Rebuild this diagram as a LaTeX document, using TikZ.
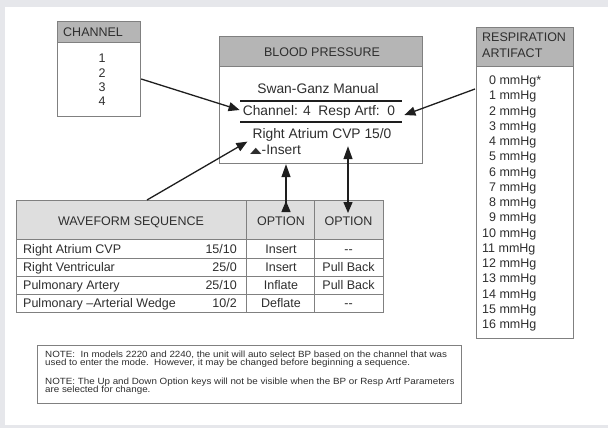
\documentclass[tikz,border=0pt]{standalone}
\usepackage{fontspec}
\setmainfont{Liberation Sans}
\newfontfamily\symfnt{DejaVu Sans}
\usetikzlibrary{arrows.meta,calc}
\definecolor{bggray}{HTML}{E6E7EB}
\definecolor{headgray}{HTML}{B5B5B5}
\definecolor{tabhead}{HTML}{DEDEDE}
\definecolor{bordc}{HTML}{808080}
\definecolor{txtc}{HTML}{2E2E2E}
\definecolor{arrc}{HTML}{1E1E1E}
\begin{document}
\begin{tikzpicture}[x=1pt,y=-1pt,
  txt/.style={text=txtc, inner sep=0pt, font=\fontsize{12.5}{14.3}\selectfont},
  ctxt/.style={txt, anchor=base},
  bigtxt/.style={text=txtc, inner sep=0pt, font=\fontsize{13.8}{16}\selectfont},
  notetxt/.style={text=txtc, inner sep=0pt, font=\fontsize{9}{9}\selectfont, anchor=base west},
  boxf/.style={draw=bordc, line width=1.2pt, inner sep=0pt, anchor=north west},
  gline/.style={draw=bordc, line width=1pt},
  dline/.style={draw=arrc, line width=1.3pt},
  conn/.style={draw=arrc, line width=1.3pt, -{Triangle[length=11pt,width=9pt]}}]
\useasboundingbox (0,0) rectangle (608,428);
\fill[bggray] (0,0) rectangle (608,428);
\fill[white] (5,7) rectangle (608,425);

% CHANNEL box
\fill[headgray] (57,21) rectangle (140,43);
\node[boxf, minimum width=83pt, minimum height=95pt] (chan) at (57,21) {};
\draw[gline] (57,43) -- (140,43);
\node[txt, anchor=west] (chanh) at (63,32) {CHANNEL};
\node[txt, align=center] (chanl) at (102,80) {1\\2\\3\\4};

% BLOOD PRESSURE box
\fill[headgray] (219,36) rectangle (422,67);
\node[boxf, minimum width=203pt, minimum height=127pt] (bp) at (219,36) {};
\draw[gline] (219,67) -- (422,67);
\node[txt] (bph) at (322,52) {BLOOD PRESSURE};
\node[bigtxt] (sgm) at (318,89) {Swan-Ganz Manual};
\draw[dline] (240,101) -- (402,101);
\node[bigtxt] (chl) at (319,112) {Channel: 4\ \ Resp Artf:\ \ 0};
\draw[dline] (240,122) -- (402,122);
\node[bigtxt] (rac) at (322,135) {Right Atrium CVP 15/0};
\node[bigtxt, anchor=base west] (ins) at (250,154) {\raisebox{0.2pt}{\scalebox{1}[0.55]{{\symfnt\fontsize{15}{15}\selectfont ▲}}}-Insert};

% RESPIRATION ARTIFACT box
\fill[headgray] (476,27) rectangle (573,67);
\node[boxf, minimum width=97pt, minimum height=311pt] (resp) at (476,27) {};
\draw[gline] (476,67) -- (573,67);
\node[txt, anchor=west, align=left, font=\fontsize{12.5}{16}\selectfont] (resph) at (482,45) {RESPIRATION\\ARTIFACT};
\node[txt, anchor=base west] (r0) at (482,84.5) {\phantom{0}0 mmHg*};
\foreach \i in {1,...,9}{
  \node[txt, anchor=base west] (r\i) at (482,84.5+15.25*\i) {\phantom{0}\i\ mmHg};
}
\foreach \i in {10,...,16}{
  \node[txt, anchor=base west] (r\i) at (482,84.5+15.25*\i) {\i\ mmHg};
}

% WAVEFORM table
\fill[tabhead] (16,200) rectangle (383,239);
\node[boxf, minimum width=367pt, minimum height=112pt] (tab) at (16,200) {};
\draw[gline] (16,239) -- (383,239);
\draw[gline] (16,258) -- (383,258);
\draw[gline] (16,276) -- (383,276);
\draw[gline] (16,294) -- (383,294);
\draw[gline] (246,200) -- (246,312);
\draw[gline] (314,200) -- (314,312);
\node[ctxt] (wavh) at (131,225.5) {WAVEFORM SEQUENCE};
\node[ctxt] (opt1) at (281,225.5) {OPTION};
\node[ctxt] (opt2) at (348.5,225.5) {OPTION};
\node[txt, anchor=base west] (w1) at (23,253) {Right Atrium CVP};
\node[txt, anchor=base east] (v1) at (237,253) {15/10};
\node[ctxt] (a1) at (281,253) {Insert};
\node[ctxt] (b1) at (348.5,253) {{-}{-}};
\node[txt, anchor=base west] (w2) at (23,271.5) {Right Ventricular};
\node[txt, anchor=base east] (v2) at (237,271.5) {25/0};
\node[ctxt] (a2) at (281,271.5) {Insert};
\node[ctxt] (b2) at (348.5,271.5) {Pull Back};
\node[txt, anchor=base west] (w3) at (23,289.5) {Pulmonary Artery};
\node[txt, anchor=base east] (v3) at (237,289.5) {25/10};
\node[ctxt] (a3) at (281,289.5) {Inflate};
\node[ctxt] (b3) at (348.5,289.5) {Pull Back};
\node[txt, anchor=base west] (w4) at (23,307.5) {Pulmonary –Arterial Wedge};
\node[txt, anchor=base east] (v4) at (237,307.5) {10/2};
\node[ctxt] (a4) at (281,307.5) {Deflate};
\node[ctxt] (b4) at (348.5,307.5) {{-}{-}};

% NOTE box
\node[boxf, minimum width=424pt, minimum height=58pt] (note) at (37,345) {};
\node[notetxt] (n1) at (45,357) {\scalebox{1.09}[1]{NOTE:\ \ In models 2220 and 2240, the unit will auto select BP based on the channel that was}};
\node[notetxt] (n2) at (45,365.5) {\scalebox{1.09}[1]{used to enter the mode.\ \ However, it may be changed before beginning a sequence.}};
\node[notetxt] (n3) at (45,384) {\scalebox{1.09}[1]{NOTE: The Up and Down Option keys will not be visible when the BP or Resp Artf Parameters}};
\node[notetxt] (n4) at (45,392.5) {\scalebox{1.09}[1]{are selected for change.}};

% connectors
\draw[conn] ($(chan.north east)+(0,58)$) -- ($(chl.west)+(-3,-2)$);
\draw[conn] ($(resp.north west)+(-1,62)$) -- ($(chl.east)+(9,3)$);
\draw[conn] ($(tab.north west)+(131,0)$) -- ($(rac.south west)+(-5,0)$);
\draw[dline, {Triangle[reversed,length=11pt,width=9pt]}-{Triangle[length=13pt,width=9pt]}]
  ($(tab.north west)+(270,12)$) -- ($(bp.south west)+(67,0)$);
\draw[dline, {Triangle[length=11pt,width=9pt]}-{Triangle[length=13pt,width=9pt]}]
  ($(tab.north west)+(332,13)$) -- ($(bp.south west)+(129,-18)$);
\end{tikzpicture}
\end{document}
